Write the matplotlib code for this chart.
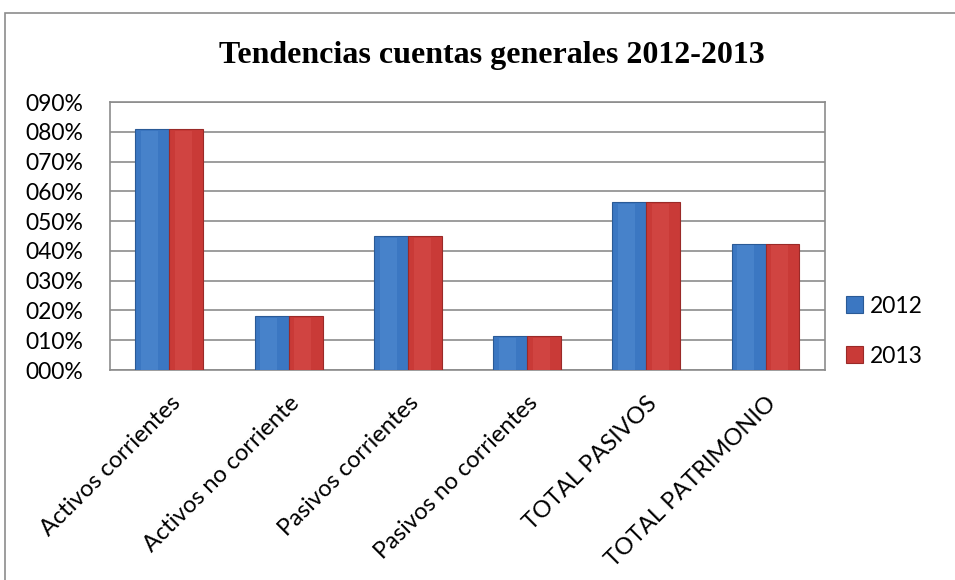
import numpy as np
import matplotlib.pyplot as plt
from matplotlib.patches import Rectangle

categorias = ["Activos corrientes", "Activos no corriente", "Pasivos corrientes",
              "Pasivos no corrientes", "TOTAL PASIVOS", "TOTAL PATRIMONIO"]
v2012 = [0.81, 0.18, 0.45, 0.115, 0.565, 0.425]
v2013 = [0.81, 0.18, 0.45, 0.115, 0.565, 0.425]
anios = ["2012", "2013"]
yticks = [0, 0.1, 0.2, 0.3, 0.4, 0.5, 0.6, 0.7, 0.8, 0.9]

plt.rcParams['font.family'] = ['Lato', 'DejaVu Sans']

fig = plt.figure(figsize=(9.55, 5.8), dpi=100)
ax = fig.add_axes([0.115, 0.362, 0.749, 0.462])

# marco exterior del grafico
fig.patches.append(Rectangle((0.005, -0.05), 1.2, 1.027, transform=fig.transFigure,
                             fill=False, edgecolor='#8c8c8c', linewidth=1.2))

x = np.arange(len(categorias))
w = 0.285
b1 = ax.bar(x - w / 2, v2012, w, color='#3b77c2', edgecolor='#2a5a96', linewidth=0.8,
            label=anios[0], zorder=3)
b2 = ax.bar(x + w / 2, v2013, w, color='#c93a37', edgecolor='#9a2a28', linewidth=0.8,
            label=anios[1], zorder=3)

# brillo suave en el centro de cada barra
for bars, col in ((b1, '#5b93d8'), (b2, '#db5552')):
    for r in bars:
        ax.bar(r.get_x() + r.get_width() * 0.42, r.get_height() - 0.006, r.get_width() * 0.5,
               color=col, alpha=0.4, linewidth=0, zorder=4)

ax.set_ylim(0, 0.9)
ax.set_xlim(-0.5, len(categorias) - 0.5)
ax.set_yticks(yticks)
ax.set_yticklabels([f"{v * 100:03.0f}%" for v in yticks], fontsize=16.5)
ax.yaxis.grid(True, color='#8c8c8c', linewidth=1.2, zorder=0)
ax.set_axisbelow(True)
ax.tick_params(axis='y', length=0, pad=19)
ax.tick_params(axis='x', length=0, pad=16)
for s in ax.spines.values():
    s.set_color('#8c8c8c')
    s.set_linewidth(1.2)

ax.set_xticks(x)
ax.set_xticklabels(categorias, rotation=45, ha='right', va='top',
                   rotation_mode='anchor', fontsize=17)

fig.text(0.515, 0.905, "Tendencias cuentas generales 2012-2013", ha='center', va='center',
         fontsize=23, fontweight='bold', family='Liberation Serif')

ax.legend(loc='center left', bbox_to_anchor=(1.0, 0.145), frameon=False, fontsize=16.5,
          handlelength=0.75, handleheight=0.75, handletextpad=0.3, labelspacing=1.25)

fig.savefig("out.png", dpi=100)
